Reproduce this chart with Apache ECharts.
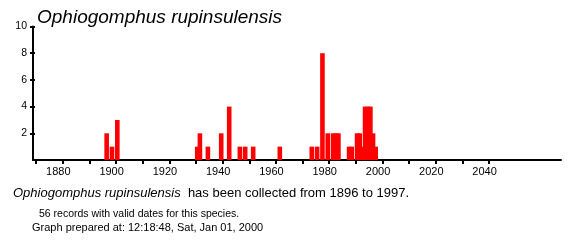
<!DOCTYPE html>
<html>
<head>
<meta charset="utf-8">
<script src="https://cdn.jsdelivr.net/npm/echarts@6/dist/echarts.min.js"></script>
<style>
  html, body { margin: 0; padding: 0; background: #fff; }
  #chart { width: 581px; height: 245px; }
</style>
</head>
<body>
<div id="chart"></div>
<script>
// ---- data ----
const years  = [1896, 1898, 1900, 1930, 1931, 1934, 1939, 1942, 1946, 1948, 1951, 1961,
                1973, 1975, 1977, 1979, 1981, 1982, 1983, 1987, 1988, 1990, 1991, 1992,
                1993, 1994, 1995, 1996, 1997];
const counts = [2, 1, 3, 1, 2, 1, 2, 4, 1, 1, 1, 1,
                1, 1, 8, 2, 2, 2, 2, 1, 1, 2, 2, 1,
                4, 4, 4, 2, 1];
const xTickValues  = [1870, 1880, 1890, 1900, 1910, 1920, 1930, 1940, 1950, 1960,
                      1970, 1980, 1990, 2000, 2010, 2020, 2030, 2040];
const xLabelValues = [1880, 1900, 1920, 1940, 1960, 1980, 2000, 2020, 2040];
const yTickValues  = [2, 4, 6, 8, 10];
const speciesName = 'Ophiogomphus rupinsulensis';
const firstYear = 1896;
const lastYear = 1997;
const recordCount = 56;
const preparedAt = '12:18:48, Sat, Jan 01, 2000';

const FONT = 'Liberation Sans, Arial, sans-serif';

const chart = echarts.init(document.getElementById('chart'), null, { renderer: 'canvas' });

const option = {
  animation: false,
  backgroundColor: '#ffffff',
  title: {
    text: speciesName,
    left: 32,
    top: 3,
    textStyle: { fontFamily: FONT, fontStyle: 'italic', fontWeight: 'normal', fontSize: 19, color: '#000' }
  },
  grid: { left: 33, right: 20, top: 26.5, bottom: 85, containLabel: false },
  xAxis: [
    {
      type: 'value',
      min: 1868.8,
      max: 2067,
      axisLine: { show: true, onZero: false, lineStyle: { color: '#000', width: 2 } },
      axisTick: { show: true, customValues: xTickValues, length: 4, lineStyle: { color: '#000', width: 2 } },
      axisLabel: {
        show: true, customValues: xLabelValues, fontFamily: FONT, fontSize: 11, color: '#000',
        margin: 6, padding: [0, 9, 0, 0],
        formatter: function (v) { return String(Math.round(v)); }
      },
      splitLine: { show: false }
    },
    {
      type: 'value',
      min: 1868.35,
      max: 2066.55,
      show: false
    }
  ],
  yAxis: [
    {
      type: 'value',
      min: 0,
      max: 10,
      axisLine: { show: true, lineStyle: { color: '#000', width: 2 } },
      axisTick: { show: true, customValues: yTickValues, length: 3, lineStyle: { color: '#000', width: 2 } },
      axisLabel: {
        show: true, customValues: yTickValues, fontFamily: FONT, fontSize: 10.5, color: '#000',
        margin: 6, padding: [4, 0, 0, 0],
        formatter: function (v) { return String(Math.round(v)); }
      },
      splitLine: { show: false }
    },
    {
      type: 'value',
      min: 0,
      max: 10,
      position: 'left',
      axisLine: { show: false },
      axisTick: { show: true, inside: true, customValues: yTickValues, length: 2, lineStyle: { color: '#000', width: 2 } },
      axisLabel: { show: false },
      splitLine: { show: false }
    }
  ],
  series: [
    {
      type: 'bar',
      xAxisIndex: 1,
      yAxisIndex: 0,
      barWidth: 4.6,
      data: years.map((y, i) => [y, counts[i]]),
      itemStyle: { color: '#ff0000' },
      emphasis: { disabled: true },
      silent: true
    }
  ],
  graphic: [
    {
      type: 'text',
      left: 13,
      top: 187,
      style: {
        text: '{a|' + speciesName + '}{b|  has been collected from ' + firstYear + ' to ' + lastYear + '.}',
        rich: {
          a: { fontFamily: FONT, fontStyle: 'italic', fontSize: 13, fill: '#000' },
          b: { fontFamily: FONT, fontSize: 13, fill: '#000' }
        }
      }
    },
    {
      type: 'text',
      left: 39,
      top: 209,
      style: { text: recordCount + ' records with valid dates for this species.', fontFamily: FONT, fontSize: 10.5, fill: '#000' }
    },
    {
      type: 'text',
      left: 32,
      top: 222.5,
      style: { text: 'Graph prepared at: ' + preparedAt, fontFamily: FONT, fontSize: 11, fill: '#000' }
    }
  ]
};

chart.setOption(option);
</script>
</body>
</html>
